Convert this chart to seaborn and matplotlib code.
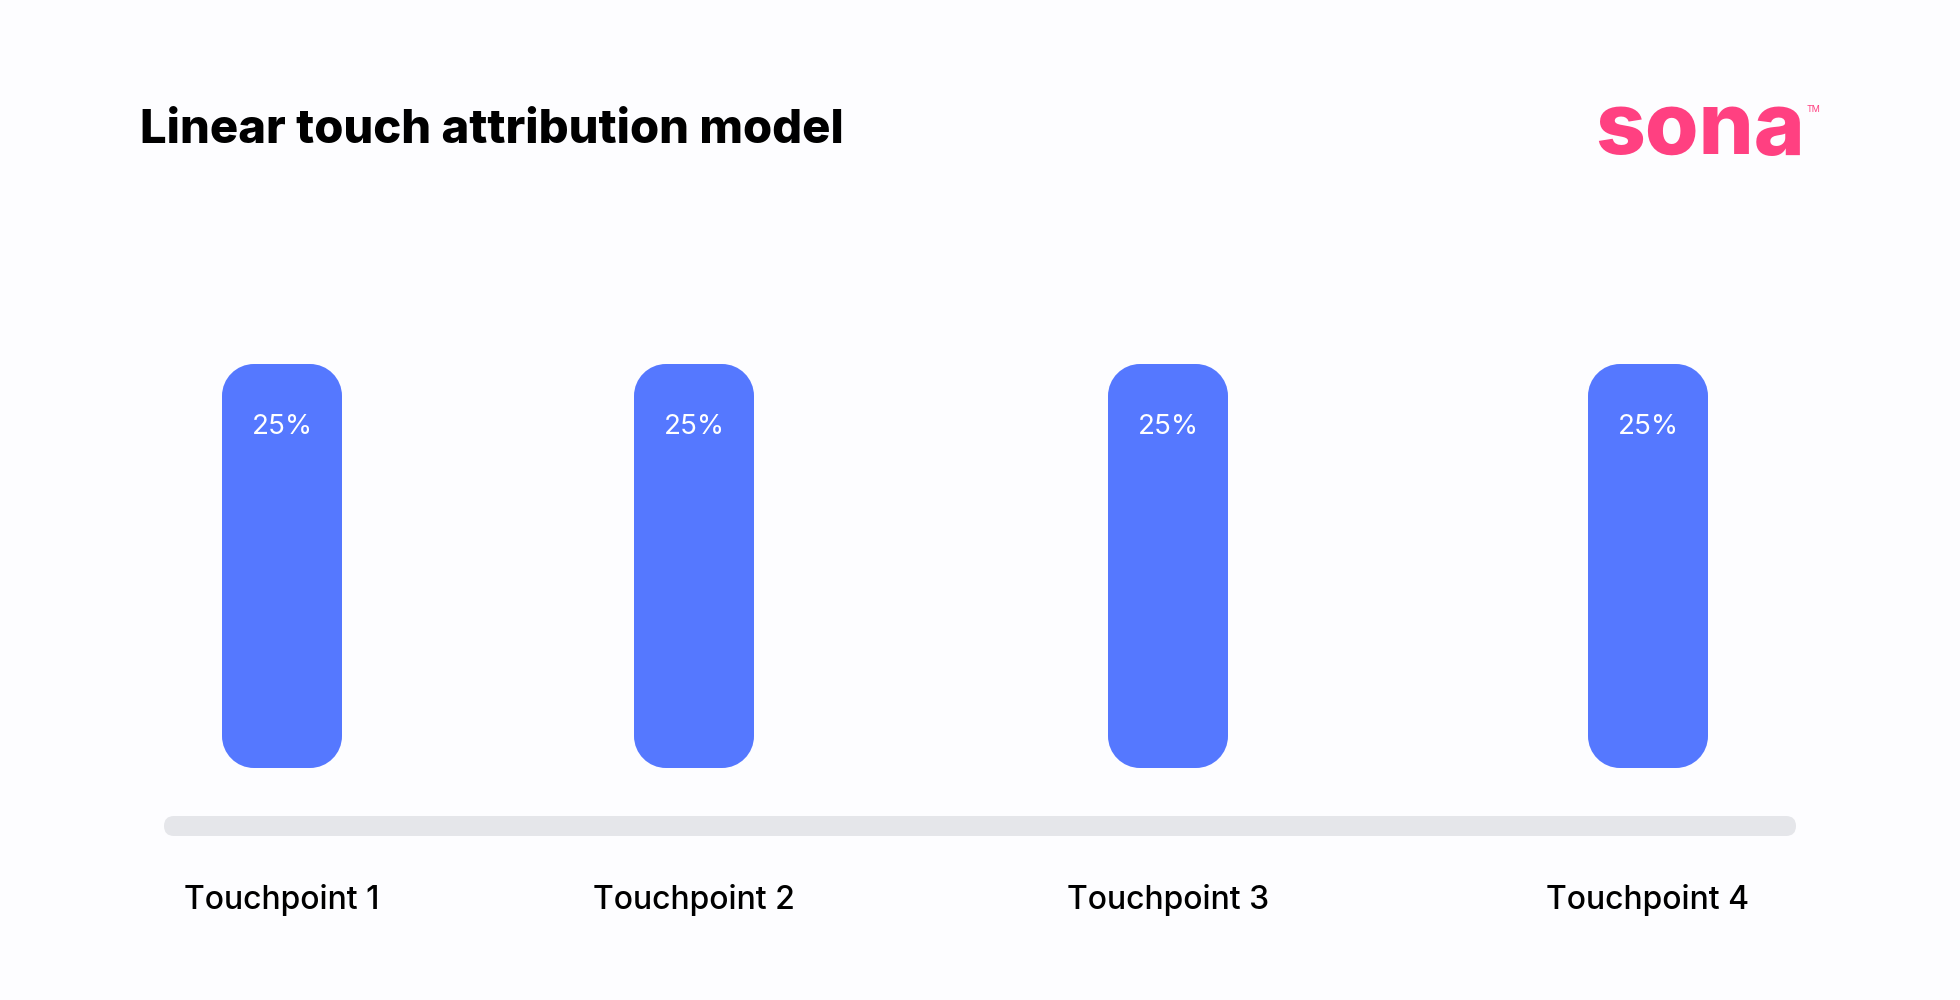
import matplotlib
matplotlib.use("Agg")
import matplotlib.pyplot as plt
from matplotlib.patches import FancyBboxPatch, PathPatch
from matplotlib.path import Path
import seaborn as sns

TITLE = "Linear touch attribution model"
TOUCHPOINTS = ["Touchpoint 1", "Touchpoint 2", "Touchpoint 3", "Touchpoint 4"]
CREDIT = [25, 25, 25, 25]

# bar centres are unevenly spaced in the original, layout in pixels
BAR_CENTERS = [282, 694, 1168, 1648]
BAR_WIDTH = 120
BAR_RADIUS = 32

W, H = 1960, 1000
BAR_COLOR = "#5578FF"
PINK = "#FF4081"
BG = "#FDFDFF"
TRACK = "#E5E6EA"


def rounded_rect(x, y, w, h, rx, ry):
    # FancyBboxPatch corners are quadratic and look squarish, use proper arcs
    k = 0.4477  # handle offset for a cubic quarter circle
    verts = [
        (x + rx, y), (x + w - rx, y),
        (x + w - k * rx, y), (x + w, y + k * ry), (x + w, y + ry),
        (x + w, y + h - ry),
        (x + w, y + h - k * ry), (x + w - k * rx, y + h), (x + w - rx, y + h),
        (x + rx, y + h),
        (x + k * rx, y + h), (x, y + h - k * ry), (x, y + h - ry),
        (x, y + ry),
        (x, y + k * ry), (x + k * rx, y), (x + rx, y),
        (x + rx, y),
    ]
    codes = [Path.MOVETO, Path.LINETO,
             Path.CURVE4, Path.CURVE4, Path.CURVE4, Path.LINETO,
             Path.CURVE4, Path.CURVE4, Path.CURVE4, Path.LINETO,
             Path.CURVE4, Path.CURVE4, Path.CURVE4, Path.LINETO,
             Path.CURVE4, Path.CURVE4, Path.CURVE4, Path.CLOSEPOLY]
    return Path(verts, codes)


sns.set_theme(style="white")
plt.rcParams["font.family"] = ["Inter", "DejaVu Sans"]

fig = plt.figure(figsize=(W / 100, H / 100), dpi=100, facecolor=BG)
# axes spans the bars: y=0 at the bar foot, y=25 at the bar top
ax = fig.add_axes([0, 1 - 768 / H, 1, 404 / H])
ax.set_facecolor("none")

# native_scale takes width relative to the smallest gap between centres
gap = min(b - a for a, b in zip(BAR_CENTERS, BAR_CENTERS[1:]))
sns.barplot(x=BAR_CENTERS, y=CREDIT, native_scale=True, width=BAR_WIDTH / gap, color=BAR_COLOR,
            saturation=1, ax=ax)
ax.set_xlim(0, W)
ax.set_ylim(0, 25)
sns.despine(ax=ax, left=True, bottom=True)
ax.set_yticks([])

ax.set_xticks(BAR_CENTERS)
ax.set_xticklabels(TOUCHPOINTS, fontsize=23, fontweight="medium", color="black")
ax.tick_params(axis="x", length=0, pad=83.5)

# swap the square bars for rounded ones, same geometry
aspect = 25 / 404
container = ax.containers[0]
for bar in container:
    bar.set_visible(False)
    ax.add_patch(PathPatch(rounded_rect(bar.get_x(), bar.get_y(), bar.get_width(), bar.get_height(),
                                        BAR_RADIUS, BAR_RADIUS * aspect),
                           fc=BAR_COLOR, ec="none"))
ax.bar_label(container, fmt="%g%%", label_type="edge", padding=-55, color="white",
             fontsize=20)

# grey rail under the bars
rail = fig.add_axes([0, 0, 1, 1])
rail.set_axis_off()
rail.set_xlim(0, W)
rail.set_ylim(H, 0)
rail.add_patch(FancyBboxPatch((164, 816), 1632, 20, boxstyle="round,pad=0,rounding_size=10",
                              fc=TRACK, ec="none"))
rail.text(140, 131, TITLE, fontsize=34, fontweight="heavy", color="black", va="center")
rail.text(1595, 122, "sona", fontsize=62.5, fontweight="heavy", color=PINK, va="center_baseline")
rail.text(1807, 109, "TM", fontsize=6.5, color=PINK, va="center")

fig.savefig("out.png", dpi=100, facecolor=BG)
